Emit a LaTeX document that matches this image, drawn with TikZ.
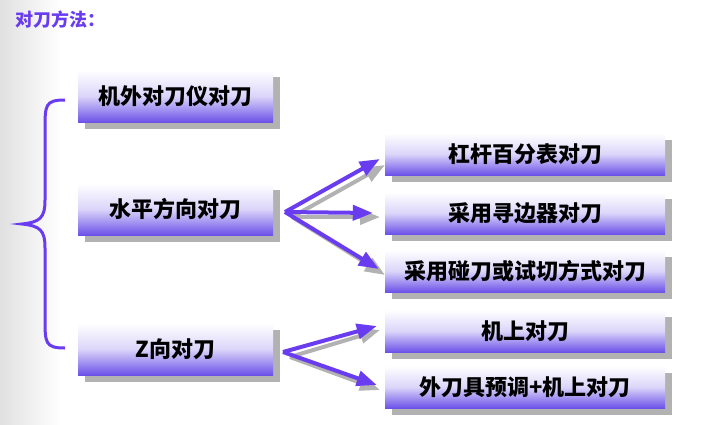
\documentclass[tikz,border=0pt]{standalone}
\usepackage{fontspec}
\setmainfont{Noto Sans CJK SC}
\usetikzlibrary{arrows.meta}
\definecolor{pur}{HTML}{6A3CF0}
\definecolor{boxp}{HTML}{6C52E8}
\tikzset{
 bx/.style={minimum height=52pt,inner sep=0pt,font=\fontsize{22}{26}\selectfont\bfseries,
   top color=white,bottom color=boxp,middle color=white!70!boxp!80!white},
 ar/.style={draw=pur,line width=4pt,-{Triangle[length=20pt,width=15pt]}},
 ars/.style={draw=black!30,line width=4pt,-{Triangle[length=20pt,width=15pt]}},
}
\begin{document}
\begin{tikzpicture}[x=1pt,y=-1pt]
\useasboundingbox (0,0) rectangle (713,424);
\fill[white] (0,0) rectangle (713,424);
\shade[left color=black!12,right color=white] (0,0) rectangle (60,424);
\node[anchor=west,text=pur,font=\fontsize{18}{20}\selectfont\bfseries] (t) at (12,20) {对刀方法：};
% shadows
\foreach \a/\b/\c/\d in {78/70/273/122,78/183/273/235,78/323/273/375,385/133/665/175,385/192/665/234,385/250/665/292,385/310/665/352,385/366/665/408}
 \fill[black!30] (\a+7,\b+7) rectangle (\c+7,\d+7);
\node[bx,minimum width=195pt,minimum height=52pt] (a) at (175.5,96) {机外对刀仪对刀};
\node[bx,minimum width=195pt,minimum height=52pt] (b) at (175.5,209) {水平方向对刀};
\node[bx,minimum width=195pt,minimum height=52pt] (c) at (175.5,349) {Z向对刀};
\node[bx,minimum width=280pt,minimum height=42pt] (r1) at (525,154) {杠杆百分表对刀};
\node[bx,minimum width=280pt,minimum height=42pt] (r2) at (525,213) {采用寻边器对刀};
\node[bx,minimum width=280pt,minimum height=42pt] (r3) at (525,271) {采用碰刀或试切方式对刀};
\node[bx,minimum width=280pt,minimum height=42pt] (r4) at (525,331) {机上对刀};
\node[bx,minimum width=280pt,minimum height=42pt] (r5) at (525,387) {外刀具预调+机上对刀};
% brace
\draw[pur,line width=3pt] (65,100) .. controls (45,100) and (45,105) .. (45,130)
  -- (45,200) .. controls (45,218) and (40,222) .. (22,224)
  .. controls (40,226) and (45,230) .. (45,248) -- (45,318)
  .. controls (45,343) and (45,348) .. (65,348);
% arrows
\coordinate (o1) at (285,212);
\coordinate (o2) at (283,352);
\foreach \x/\y in {385/165,380/217,385/275} \draw[ars] (292,217) -- (\x,\y);
\foreach \x/\y in {380/330,380/390} \draw[ars] (290,357) -- (\x,\y);
\draw[ar] (o1) -- ([shift={(-5,5)}]r1.west);
\draw[ar] (o1) -- ([shift={(-12,0)}]r2.west);
\draw[ar] (o1) -- ([shift={(-6,-2)}]r3.west);
\draw[ar] (o2) -- ([shift={(-8,-5)}]r4.west);
\draw[ar] (o2) -- ([shift={(-8,-2)}]r5.west);
\end{tikzpicture}
\end{document}
